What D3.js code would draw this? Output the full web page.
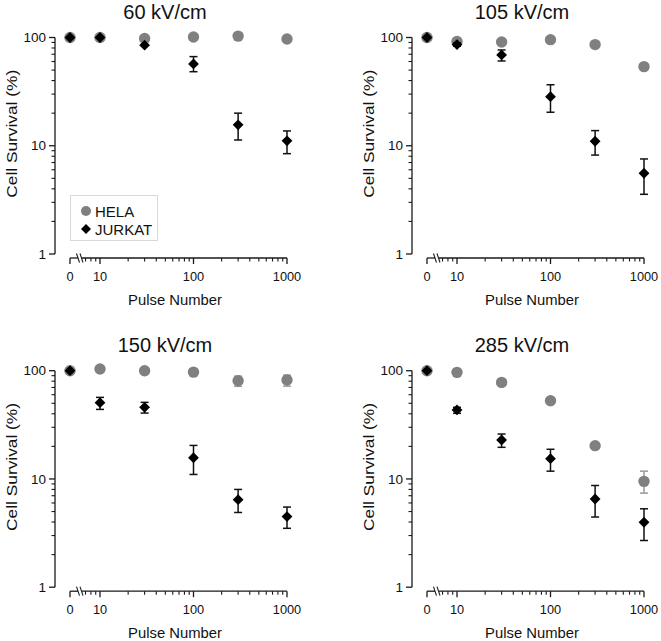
<!DOCTYPE html>
<html><head><meta charset="utf-8">
<script src="https://cdn.jsdelivr.net/npm/d3@7"></script>
<style>body{margin:0;background:#fff}svg{display:block}text{font-family:"Liberation Sans",Arial,sans-serif;fill:#111}</style>
</head><body><svg id="c" width="661" height="641"></svg>
<script>
const titles = ["60 kV/cm", "105 kV/cm", "150 kV/cm", "285 kV/cm"];
const pulses = [0, 10, 30, 100, 300, 1000];
const xTickLabels = ["0", "10", "100", "1000"];
const yTickLabels = ["1", "10", "100"];
const seriesNames = ["HELA", "JURKAT"];

const helaMean = [
  [100, 100, 98, 101, 103, 97],
  [100, 92, 91, 95.5, 86, 53.8],
  [100, 103.6, 100, 97, 80.8, 82],
  [100, 96.5, 78, 52.8, 20.3, 9.5]
];
const helaLo = [
  [100, 100, 98, 101, 103, 97],
  [100, 92, 91, 95.5, 86, 53.8],
  [100, 103.6, 100, 97, 71.7, 72],
  [100, 96.5, 78, 52.8, 19.2, 7.4]
];
const helaHi = [
  [100, 100, 98, 101, 103, 97],
  [100, 92, 91, 95.5, 86, 53.8],
  [100, 103.6, 100, 97, 89, 91],
  [100, 96.5, 78, 52.8, 21.5, 11.8]
];
const jurkatMean = [
  [100, 100, 85, 57, 15.6, 11.1],
  [100, 86, 69, 28.4, 11, 5.57],
  [100, 50.7, 45.9, 15.7, 6.44, 4.49],
  [100, 43.4, 22.9, 15.4, 6.53, 3.98]
];
const jurkatLo = [
  [100, 100, 85, 48.3, 11.3, 8.45],
  [100, 83, 60.7, 20.4, 8.2, 3.56],
  [100, 43.9, 40.6, 11.0, 4.9, 3.5],
  [100, 40.4, 19.6, 11.8, 4.45, 2.7]
];
const jurkatHi = [
  [100, 100, 85, 66.6, 20, 13.7],
  [100, 89, 76.7, 36.6, 13.8, 7.55],
  [100, 56.7, 51, 20.4, 8.0, 5.5],
  [100, 45.9, 26, 18.8, 8.7, 5.3]
];

const svg = d3.select("#c");
const offsets = [[0, 0], [357, 0], [0, 333.2], [357, 333.2]];
const axisColor = "#1a1a1a";

function diamond(h) {
  return `M0,${-h}L${h},0L0,${h}L${-h},0Z`;
}

titles.forEach((title, pi) => {
  const [ox, oy] = offsets[pi];
  const g = svg.append("g").attr("transform", `translate(${ox},${oy})`);
  const y = d3.scaleLog().domain([1, 100]).range([254, 37.5]);
  const xl = d3.scaleLog().domain([10, 1000]).range([100, 287]);
  const zeroX = 70;
  const xPos = n => n === 0 ? zeroX : xl(n);
  const axisY = 258, yAxisX = 55;

  // title
  g.append("text").attr("x", 165).attr("y", 19).attr("text-anchor", "middle")
    .attr("font-size", 20).text(title);

  // y axis
  g.append("line").attr("x1", yAxisX).attr("x2", yAxisX).attr("y1", y(100)).attr("y2", y(1))
    .attr("stroke", axisColor).attr("stroke-width", 1.3);
  const yMinor = [];
  for (let d = 1; d <= 10; d *= 10) for (let k = 2; k <= 9; k++) yMinor.push(k * d);
  g.selectAll(".ymin").data(yMinor).enter().append("line")
    .attr("x1", yAxisX - 3.5).attr("x2", yAxisX).attr("y1", d => y(d)).attr("y2", d => y(d))
    .attr("stroke", axisColor).attr("stroke-width", 1.1);
  g.selectAll(".ymaj").data(yTickLabels).enter().append("line")
    .attr("x1", yAxisX - 6).attr("x2", yAxisX).attr("y1", d => y(+d)).attr("y2", d => y(+d))
    .attr("stroke", axisColor).attr("stroke-width", 1.3);
  g.selectAll(".ylab").data(yTickLabels).enter().append("text")
    .attr("x", yAxisX - 9).attr("y", d => y(+d) + 4.6).attr("text-anchor", "end")
    .attr("font-size", 13.5).text(d => d);
  g.append("text").attr("transform", `translate(17,${(y(1) + y(100)) / 2 - 12}) rotate(-90) scale(1.17,1)`)
    .attr("text-anchor", "middle").attr("font-size", 14.8).text("Cell Survival (%)");

  // x axis with break
  const brk = 80;
  g.append("line").attr("x1", zeroX).attr("x2", brk - 2).attr("y1", axisY).attr("y2", axisY)
    .attr("stroke", axisColor).attr("stroke-width", 1.3);
  g.append("line").attr("x1", brk + 2).attr("x2", xl(1000)).attr("y1", axisY).attr("y2", axisY)
    .attr("stroke", axisColor).attr("stroke-width", 1.3);
  [-2, 1.5].forEach(dx => {
    g.append("line").attr("x1", brk + dx - 1.5).attr("x2", brk + dx + 1.5)
      .attr("y1", axisY - 4.5).attr("y2", axisY + 4.5)
      .attr("stroke", axisColor).attr("stroke-width", 1.1);
  });
  const xMinor = [7, 8, 9];
  for (let d = 10; d <= 100; d *= 10) for (let k = 2; k <= 9; k++) xMinor.push(k * d);
  g.selectAll(".xmin").data(xMinor).enter().append("line")
    .attr("x1", d => xl(d)).attr("x2", d => xl(d)).attr("y1", axisY).attr("y2", axisY + 3.5)
    .attr("stroke", axisColor).attr("stroke-width", 1.1);
  g.selectAll(".xmaj").data(xTickLabels).enter().append("line")
    .attr("x1", d => xPos(+d)).attr("x2", d => xPos(+d)).attr("y1", axisY).attr("y2", axisY + 6)
    .attr("stroke", axisColor).attr("stroke-width", 1.3);
  g.selectAll(".xlab").data(xTickLabels).enter().append("text")
    .attr("x", d => xPos(+d)).attr("y", axisY + 22.5).attr("text-anchor", "middle")
    .attr("font-size", 12.8).text(d => d);
  g.append("text").attr("x", 175).attr("y", 304.5).attr("text-anchor", "middle")
    .attr("font-size", 14.8).text("Pulse Number");

  // data
  const series = [
    {mean: helaMean[pi], lo: helaLo[pi], hi: helaHi[pi], color: "#808080", err: "#9a9a9a", shape: "circle"},
    {mean: jurkatMean[pi], lo: jurkatLo[pi], hi: jurkatHi[pi], color: "#000", err: "#111", shape: "diamond"}
  ];
  series.forEach(s => {
    const pts = pulses.map((p, i) => ({p, m: s.mean[i], lo: s.lo[i], hi: s.hi[i]}));
    const eb = g.append("g");
    pts.filter(d => d.hi > d.lo).forEach(d => {
      const cx = xPos(d.p);
      eb.append("line").attr("x1", cx).attr("x2", cx).attr("y1", y(d.lo)).attr("y2", y(d.hi))
        .attr("stroke", s.err).attr("stroke-width", 1.5);
      [d.lo, d.hi].forEach(v => eb.append("line").attr("x1", cx - 4).attr("x2", cx + 4)
        .attr("y1", y(v)).attr("y2", y(v)).attr("stroke", s.err).attr("stroke-width", 1.5));
    });
    if (s.shape === "circle") {
      g.selectAll(null).data(pts).enter().append("circle")
        .attr("cx", d => xPos(d.p)).attr("cy", d => y(d.m)).attr("r", 5.7).attr("fill", s.color);
    } else {
      g.selectAll(null).data(pts).enter().append("path")
        .attr("transform", d => `translate(${xPos(d.p)},${y(d.m)})`)
        .attr("d", diamond(5.4)).attr("fill", s.color);
    }
  });

  // legend in first panel
  if (pi === 0) {
    const lg = g.append("g");
    lg.append("rect").attr("x", 70.5).attr("y", 195.5).attr("width", 87).attr("height", 45)
      .attr("fill", "#fff").attr("stroke", "#d8d8d8").attr("stroke-width", 1);
    lg.append("circle").attr("cx", 86).attr("cy", 211).attr("r", 5).attr("fill", "#808080");
    lg.append("path").attr("transform", "translate(86,229)").attr("d", diamond(5)).attr("fill", "#000");
    lg.append("text").attr("x", 95).attr("y", 216.5).attr("font-size", 15).text(seriesNames[0]);
    lg.append("text").attr("x", 95).attr("y", 234.5).attr("font-size", 15).text(seriesNames[1]);
  }
});
</script></body></html>
